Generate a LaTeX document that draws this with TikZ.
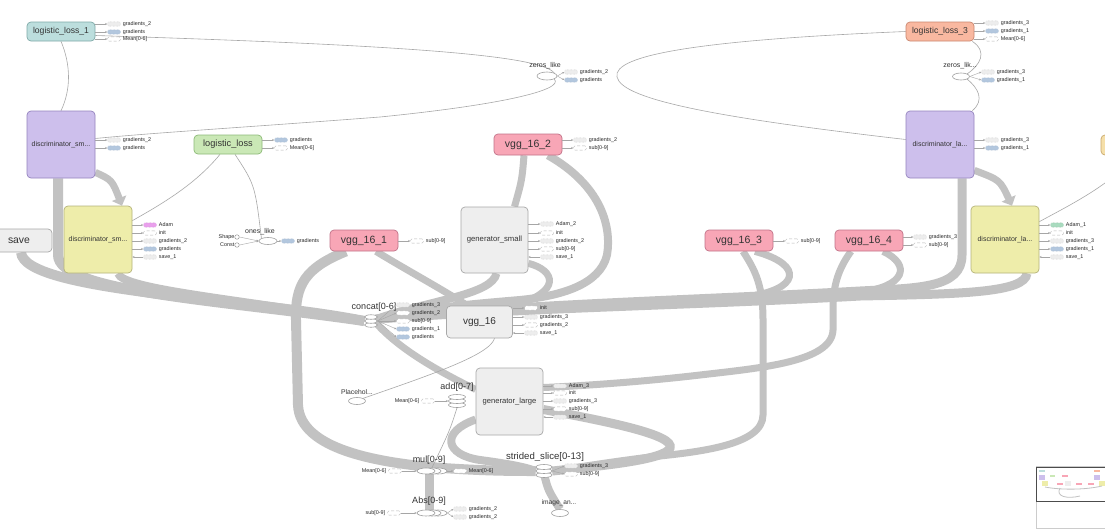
\documentclass[tikz,border=0pt]{standalone}
\usepackage{fontspec}
\setmainfont{Liberation Sans}
\usetikzlibrary{shapes.geometric,arrows.meta}
\pgfdeclarelayer{bg}
\pgfsetlayers{bg,main}
\definecolor{bandc}{HTML}{C2C2C2}
\definecolor{thinc}{HTML}{A8A8A8}
\definecolor{txtc}{HTML}{333333}
\definecolor{tealf}{HTML}{BCDEDD}\definecolor{teald}{HTML}{7FAAA8}
\definecolor{purpf}{HTML}{CDBFEC}\definecolor{purpd}{HTML}{9584BE}
\definecolor{greenf}{HTML}{CAE8B6}\definecolor{greend}{HTML}{8DBA78}
\definecolor{pinkf}{HTML}{F8A6B6}\definecolor{pinkd}{HTML}{C27288}
\definecolor{salmf}{HTML}{F9B8A0}\definecolor{salmd}{HTML}{C9866F}
\definecolor{yellf}{HTML}{EEEDAA}\definecolor{yelld}{HTML}{B5B37A}
\definecolor{grayf}{HTML}{EEEEEE}\definecolor{grayd}{HTML}{A8A8A8}
\definecolor{wheatf}{HTML}{F5DFA9}\definecolor{wheatd}{HTML}{C8A86E}
\definecolor{auxd}{HTML}{B8B8B8}
\definecolor{bluef}{HTML}{B3C7DE}\definecolor{blued}{HTML}{8CA3BF}
\definecolor{magf}{HTML}{E9A0EC}\definecolor{magd}{HTML}{C070C8}
\definecolor{mintf}{HTML}{A9DBBF}\definecolor{mintd}{HTML}{6FAA88}
\definecolor{lightf}{HTML}{EDEDED}
\newcommand{\myfs}[1]{\fontsize{#1}{#1}\selectfont}
% aux items: name, source node, x, y, style, label
\newcommand{\ax}[6]{\node[auxb,#5] (#1) at (#3,#4) {};\node[auxt] (#1t) at (#1.east) {#6};\draw[auxa] (#2.east |- #1.west) -- (#1.west);}
\newcommand{\axf}[6]{\node[auxb,#5] (#1) at (#3,#4) {};\node[auxt] (#1t) at (#1.east) {#6};\draw[auxa] (#2.east) -- (#1.west);}
\newcommand{\axi}[6]{\node[auxb,#5] (#1) at (#3,#4) {};\node[auxt] (#1t) at (#1.east) {#6};\draw[auxa] (#1.west) -- (#2.east |- #1.west);}
\newcommand{\axl}[6]{\node[auxb,#5] (#1) at (#3,#4) {};\node[auxt,anchor=east,xshift=-4pt] (#1t) at (#1.west) {#6};\draw[auxa] (#1.east) -- (#2.west);}
\begin{document}
\begin{tikzpicture}[x=1pt,y=-1pt,
 mbox/.style={draw,rounded corners=4pt,line width=0.7pt,inner sep=0pt,text=txtc,align=center},
 cteal/.style={fill=tealf,draw=teald},
 cpurp/.style={fill=purpf,draw=purpd},
 cgreen/.style={fill=greenf,draw=greend},
 cpink/.style={fill=pinkf,draw=pinkd,minimum width=68pt,minimum height=21pt,font=\myfs{10.5}},
 csalm/.style={fill=salmf,draw=salmd},
 cyell/.style={fill=yellf,draw=yelld},
 cgray/.style={fill=grayf,draw=grayd},
 cwheat/.style={fill=wheatf,draw=wheatd},
 ser/.style={ellipse,draw=gray!75,fill=white,line width=0.6pt,inner sep=0pt},
 slab/.style={font=\myfs{9},text=txtc,inner sep=0pt},
 olab/.style={font=\myfs{7},text=txtc,inner sep=0pt},
 band/.style={draw=bandc,line width=#1},
 band/.default=8pt,
 barrow/.style={-{Triangle[length=8pt,width=15pt]}},
 thin/.style={draw=thinc,line width=0.6pt},
 auxb/.style={rounded corners=1.5pt,minimum width=13pt,minimum height=4.2pt,inner sep=0pt,line width=0.4pt},
 auxt/.style={anchor=west,xshift=2pt,font=\myfs{5.4},inner sep=0pt,text=black!85},
 auxa/.style={draw=gray!70,line width=0.4pt,-{Stealth[length=2.2pt,width=2pt]}},
 alight/.style={fill=lightf,draw=auxd,densely dotted},
 ablue/.style={fill=bluef,draw=blued,densely dotted},
 awhite/.style={fill=white,draw=auxd,densely dashed},
 ainit/.style={fill=white,draw=auxd,densely dashed,rounded corners=2pt},
 amag/.style={fill=magf,draw=magd,densely dotted},
 amint/.style={fill=mintf,draw=mintd,densely dotted},
 tinyc/.style={circle,draw=gray!80,fill=white,line width=0.5pt,minimum size=4.5pt,inner sep=0pt}
]
\useasboundingbox (0,0) rectangle (1105,528);
\begin{pgfonlayer}{bg}
\fill[white] (0,0) rectangle (1105,528);
\end{pgfonlayer}

% ---------- main nodes ----------
\node[mbox,cteal,minimum width=68pt,minimum height=19pt,font=\myfs{8.6}] (lgl1) at (61,31.5) {logistic\_loss\_1};
\node[mbox,cpurp,minimum width=68pt,minimum height=67pt,font=\myfs{7}] (dsp) at (61,144.5) {discriminator\_sm...};
\node[mbox,cgreen,minimum width=68pt,minimum height=19pt,font=\myfs{9.2}] (lgl) at (228,144.5) {logistic\_loss};
\node[mbox,cpink] (vgg2) at (528,144.5) {vgg\_16\_2};
\node[mbox,csalm,minimum width=68pt,minimum height=19pt,font=\myfs{8.6}] (lgl3) at (940,31.5) {logistic\_loss\_3};
\node[mbox,cpurp,minimum width=68pt,minimum height=67pt,font=\myfs{7}] (dlp) at (940,144.5) {discriminator\_la...};
\node[mbox,cwheat,minimum width=60pt,minimum height=20pt] (wheat) at (1131,145) {};
\node[mbox,cgray,minimum width=88pt,minimum height=23pt,font=\myfs{10.4}] (save) at (8,240.5) {\hspace*{22pt}save};
\node[mbox,cyell,minimum width=68pt,minimum height=67pt,font=\myfs{7}] (dsy) at (98,239.5) {discriminator\_sm...};
\node[mbox,cpink] (vgg1) at (364,240.5) {vgg\_16\_1};
\node[mbox,cgray,minimum width=67pt,minimum height=66pt,font=\myfs{7.7}] (gsm) at (494.5,240) {generator\_small};
\node[mbox,cpink] (vgg3) at (739,240.5) {vgg\_16\_3};
\node[mbox,cpink] (vgg4) at (869,240.5) {vgg\_16\_4};
\node[mbox,cyell,minimum width=68pt,minimum height=67pt,font=\myfs{7}] (dly) at (1005,239.5) {discriminator\_la...};
\node[mbox,cgray,minimum width=66pt,minimum height=32pt,font=\myfs{10}] (vgg16) at (479.5,322) {vgg\_16};
\node[mbox,cgray,minimum width=67pt,minimum height=67pt,font=\myfs{7.6}] (glg) at (509.5,401.5) {generator\_large};

% ---------- op nodes ----------
\node[ser,minimum width=20pt,minimum height=8pt] (zl) at (547,76) {};
\node[olab] (zlt) at (545,66) {zeros\_like};
\node[ser,minimum width=17pt,minimum height=7pt] (zl3) at (961,76.5) {};
\node[olab] (zl3t) at (960,66) {zeros\_lik...};
\node[ser,minimum width=18pt,minimum height=7pt] (ones) at (268,241) {};
\node[olab] (onest) at (260,232) {ones\_like};
\node[tinyc] (shp) at (237,237) {};
\node[tinyc] (cst) at (237,245) {};
\node[auxt,anchor=east,xshift=-2pt] (shpt) at (shp.west) {Shape};
\node[auxt,anchor=east,xshift=-2pt] (cstt) at (cst.west) {Const};
\draw[auxa] (shp.east) -- (ones.west);
\draw[auxa] (cst.east) -- (ones.west);
\node[ser,minimum width=17pt,minimum height=7pt] (ph) at (357,401) {};
\node[olab,font=\myfs{6.8}] (pht) at (357,392) {Placehol...};
\node[ser,minimum width=17pt,minimum height=7pt] (img) at (560,513) {};
\node[olab,font=\myfs{6.6}] (imgt) at (559,503) {image\_an...};
% series stacks
\node[ser,minimum width=13pt,minimum height=4.5pt] (concat3) at (371,325) {};
\node[ser,minimum width=13pt,minimum height=4.5pt] (concat) at (371,321) {};
\node[ser,minimum width=13pt,minimum height=4.5pt] (concat1) at (371,317) {};
\node[slab] (concatt) at (374,307) {concat[0-6]};
\node[ser,minimum width=17pt,minimum height=5pt] (add3) at (457,405) {};
\node[ser,minimum width=17pt,minimum height=5pt] (add) at (457,401) {};
\node[ser,minimum width=17pt,minimum height=5pt] (add1) at (457,397) {};
\node[slab] (addt) at (457,387) {add[0-7]};
\node[ser,minimum width=16pt,minimum height=5pt] (ss3) at (544,475) {};
\node[ser,minimum width=16pt,minimum height=5pt] (ss) at (544,471) {};
\node[ser,minimum width=16pt,minimum height=5pt] (ss1) at (544,467) {};
\node[slab,font=\myfs{9.6}] (sst) at (545,457) {strided\_slice[0-13]};
\node[ser,minimum width=18pt,minimum height=6pt] (mul3) at (438,471) {};
\node[ser,minimum width=18pt,minimum height=6pt] (mul2) at (432,471) {};
\node[ser,minimum width=18pt,minimum height=6pt] (mul) at (426,471) {};
\node[slab] (mult) at (429,460) {mul[0-9]};
\node[ser,minimum width=18pt,minimum height=6pt] (abs3) at (438,513) {};
\node[ser,minimum width=18pt,minimum height=6pt] (abs2) at (432,513) {};
\node[ser,minimum width=18pt,minimum height=6pt] (abs) at (426,513) {};
\node[slab] (abst) at (429,501) {Abs[0-9]};

% ---------- auxiliary items ----------
\ax{a1}{lgl1}{114}{24}{alight}{gradients\_2}
\ax{a2}{lgl1}{114}{32}{ablue}{gradients}
\ax{a3}{lgl1}{114}{39}{awhite}{Mean[0-6]}
\ax{a4}{dsp}{114}{140}{alight}{gradients\_2}
\ax{a5}{dsp}{114}{148}{ablue}{gradients}
\ax{a6}{lgl}{281}{140}{ablue}{gradients}
\ax{a7}{lgl}{281}{148}{awhite}{Mean[0-6]}
\axf{a8}{zl}{571}{72}{alight}{gradients\_2}
\axf{a9}{zl}{571}{80}{ablue}{gradients}
\ax{a10}{vgg2}{580}{140}{alight}{gradients\_2}
\ax{a11}{vgg2}{580}{148}{awhite}{sub[0-9]}
\ax{a12}{lgl3}{992}{23}{alight}{gradients\_3}
\ax{a13}{lgl3}{992}{31}{ablue}{gradients\_1}
\ax{a14}{lgl3}{992}{39}{awhite}{Mean[0-6]}
\axf{a15}{zl3}{988}{72}{alight}{gradients\_3}
\axf{a16}{zl3}{988}{80}{ablue}{gradients\_1}
\ax{a17}{dlp}{992}{140}{alight}{gradients\_3}
\ax{a18}{dlp}{992}{148}{ablue}{gradients\_1}
\ax{a19}{dsy}{150}{225}{amag}{Adam}
\ax{a20}{dsy}{150}{233}{ainit}{init}
\ax{a21}{dsy}{150}{241}{alight}{gradients\_2}
\ax{a22}{dsy}{150}{249}{ablue}{gradients}
\axi{a23}{dsy}{150}{257}{alight}{save\_1}
\axf{a24}{ones}{288}{241}{ablue}{gradients}
\ax{a25}{vgg1}{417}{241}{awhite}{sub[0-9]}
\ax{a26}{gsm}{547}{224}{alight}{Adam\_2}
\ax{a27}{gsm}{547}{233}{ainit}{init}
\ax{a28}{gsm}{547}{241}{alight}{gradients\_2}
\ax{a29}{gsm}{547}{249}{awhite}{sub[0-9]}
\axi{a30}{gsm}{547}{257}{alight}{save\_1}
\ax{a31}{vgg3}{792}{241}{awhite}{sub[0-9]}
\ax{a32}{vgg4}{920}{237}{alight}{gradients\_3}
\ax{a33}{vgg4}{920}{245}{awhite}{sub[0-9]}
\ax{a34}{dly}{1057}{225}{amint}{Adam\_1}
\ax{a35}{dly}{1057}{233}{ainit}{init}
\ax{a36}{dly}{1057}{241}{alight}{gradients\_3}
\ax{a37}{dly}{1057}{249}{ablue}{gradients\_1}
\axi{a38}{dly}{1057}{257}{alight}{save\_1}
\axf{a39}{concat}{403}{305}{alight}{gradients\_3}
\axf{a40}{concat}{403}{313}{awhite}{gradients\_2}
\axf{a41}{concat}{403}{321}{awhite}{sub[0-9]}
\axf{a42}{concat}{403}{329}{ablue}{gradients\_1}
\axf{a43}{concat}{403}{337}{ablue}{gradients}
\ax{a44}{vgg16}{531}{308}{ainit}{init}
\ax{a45}{vgg16}{531}{317}{alight}{gradients\_3}
\ax{a46}{vgg16}{531}{325}{awhite}{gradients\_2}
\axi{a47}{vgg16}{531}{333}{alight}{save\_1}
\axl{a48}{add}{428}{401}{awhite}{Mean[0-6]}
\ax{a49}{glg}{560}{386}{alight}{Adam\_3}
\ax{a50}{glg}{560}{393}{ainit}{init}
\ax{a51}{glg}{560}{401}{alight}{gradients\_3}
\ax{a52}{glg}{560}{409}{awhite}{sub[0-9]}
\axi{a53}{glg}{560}{417}{alight}{save\_1}
\axl{a54}{mul}{395}{471}{awhite}{Mean[0-6]}
\axf{a55}{mul3}{460}{471}{awhite}{Mean[0-6]}
\axl{a56}{abs}{394}{513}{awhite}{sub[0-9]}
\axf{a57}{abs3}{460}{509}{alight}{gradients\_2}
\axf{a58}{abs3}{460}{517}{alight}{gradients\_2}
\axf{a59}{ss}{571}{466}{alight}{gradients\_3}
\axf{a60}{ss}{571}{474}{awhite}{sub[0-9]}

% ---------- connectors (behind nodes) ----------
\begin{pgfonlayer}{bg}
% left bundle into concat
\draw[band=10pt] ([xshift=13pt]save.south) .. controls (24,292) and (250,298) .. (concat.west);
\draw[band=10pt] ([xshift=-3pt]dsp.south) -- (58,255) .. controls (58,292) and (220,300) .. (concat.west);
\draw[band=8pt] ([xshift=-15pt]dsy.south) .. controls (88,292) and (230,302) .. (concat.west);
\draw[band=8pt] ([xshift=20pt]dsy.south) .. controls (122,290) and (250,300) .. (concat.west);
\draw[band=7pt,barrow] ([yshift=6pt]dsp.south east) .. controls (112,180) .. ([xshift=24pt]dsy.north);
% right bundle into concat
\draw[band=9pt] ([xshift=22pt]dlp.south) -- (962,255) .. controls (962,288) and (920,288) .. (860,291) .. controls (700,300) and (520,304) .. (concat.north east);
\draw[band=9pt] ([xshift=22pt]dly.south) .. controls (1025,293) and (960,294) .. (860,296) .. controls (700,305) and (520,308) .. (concat.north east);
\draw[band=7pt,barrow] ([yshift=8pt]dlp.south east) .. controls (1000,180) .. ([xshift=7pt]dly.north);
\draw[band=7pt] ([xshift=16pt]vgg3.south) .. controls (805,265) and (800,290) .. (745,297) .. controls (650,305) and (500,308) .. (concat.north east);
\draw[band=7pt] ([xshift=14pt]vgg4.south) .. controls (912,265) and (905,287) .. (860,292);
% vgg_16_2 and generator_small
\draw[band=7pt] ([xshift=-4pt]vgg2.south) .. controls (522,180) .. ([xshift=20pt]gsm.north);
\draw[band=8pt] ([xshift=20pt]vgg2.south) .. controls (600,185) and (612,225) .. (607,255) .. controls (600,285) and (560,296) .. (520,300) .. controls (460,305) and (410,310) .. (concat.north east);
\draw[band=8pt] ([xshift=2pt]gsm.south) .. controls (492,295) and (430,300) .. (concat.north east);
\draw[band=7pt] ([yshift=10pt]gsm.south east) .. controls (555,270) and (563,292) .. (vgg16.north east);
% vgg_16_1
\draw[band=7pt] ([xshift=12pt]vgg1.south) .. controls (410,272) and (440,288) .. ([xshift=-12pt]vgg16.north);
\draw[band=10pt] ([xshift=-18pt]vgg1.south) .. controls (305,268) and (295,285) .. (296,320) -- (298,405) .. controls (300,450) and (380,462) .. (430,467) .. controls (480,471) and (515,471) .. (ss.west);
% concat -> generator_large
\draw[band=7pt] (concat.south east) .. controls (400,350) and (440,372) .. ([yshift=12pt]glg.west);
% vgg_16_3 -> strided_slice
\draw[band=7pt] ([xshift=4pt]vgg3.south) .. controls (755,270) and (763,285) .. (763,320) -- (763,415) .. controls (763,445) and (700,452) .. (650,457) .. controls (610,462) and (580,467) .. (ss.east);
% vgg_16_4 -> generator_large
\draw[band=7pt] ([xshift=-18pt]vgg4.south) .. controls (836,272) and (833,290) .. (833,310) -- (833,330) .. controls (832,362) and (760,368) .. (700,375) .. controls (640,382) and (580,386) .. ([yshift=14pt]glg.east);
% generator_large -> strided_slice
\draw[band=9pt] ([yshift=-8pt]glg.east) .. controls (610,422) and (675,435) .. (670,448) .. controls (665,460) and (600,466) .. (ss.east);
\draw[band=8pt] ([yshift=-18pt]glg.west) .. controls (440,432) and (445,455) .. (480,460) .. controls (510,464) and (525,467) .. (ss.west);
% bottom
\draw[band=9pt] ([xshift=3pt]mul.south) -- ([xshift=3pt]abs.north);
\draw[band=8pt] (ss.south) .. controls (548,490) .. (img.north);
% thin edges
\draw[thin] (lgl1.south) .. controls (71,65) and (71,90) .. (dsp.north);
\draw[thin] ([yshift=-4pt]lgl1.east) .. controls (400,45) and (540,55) .. (zl.north east);
\draw[thin] (zl.south east) .. controls (565,90) and (500,105) .. (380,117) .. controls (250,127) and (150,133) .. ([yshift=6pt]dsp.east);
\draw[thin] (lgl3.west) .. controls (700,40) and (612,55) .. (617,77) .. controls (622,100) and (720,118) .. ([yshift=5pt]dlp.west);
\draw[thin] ([xshift=-2pt]lgl3.south east) .. controls (988,52) and (980,65) .. (zl3.north east);
\draw[thin] (zl3.south east) .. controls (978,88) and (985,100) .. ([xshift=-2pt]dlp.north east);
\draw[thin] ([xshift=-8pt]lgl.south) .. controls (195,185) and (160,205) .. ([yshift=-15pt]dsy.north east);
\draw[thin] ([xshift=7pt]lgl.south) .. controls (255,185) .. (ones.north west);
\draw[thin] (wheat.south) .. controls (1120,180) and (1070,205) .. ([yshift=-16pt]dly.north east);
\draw[thin] (ph.north east) .. controls (430,375) and (490,355) .. ([xshift=15pt]vgg16.south);
\draw[thin] (add3.south) .. controls (450,430) .. (mul2.north);
\end{pgfonlayer}

% ---------- minimap ----------
\node[draw=gray!40,fill=white,minimum width=72pt,minimum height=62pt,inner sep=0pt] (mm) at (1072,497) {};
\node[draw=gray!60!black,line width=0.8pt,minimum width=72pt,minimum height=34pt,inner sep=0pt] (mmv) at (1072,484) {};
\fill[tealf] (1039,470) rectangle (1045,472);
\fill[purpf] (1039,475) rectangle (1045,480);
\fill[yellf] (1042,481) rectangle (1048,486);
\fill[greenf] (1050,475) rectangle (1055,477);
\fill[pinkf] (1062,475) rectangle (1068,477);
\fill[pinkf] (1057,483) rectangle (1063,485);
\fill[pinkf] (1076,483) rectangle (1082,485);
\fill[pinkf] (1088,483) rectangle (1094,485);
\fill[salmf] (1094,470) rectangle (1100,472);
\fill[purpf] (1094,475) rectangle (1100,480);
\fill[yellf] (1099,481) rectangle (1105,486);
\fill[grayf] (1065,481) rectangle (1071,486);
\draw[bandc,line width=0.8pt] (1045,487) .. controls (1060,490) and (1085,490) .. (1102,486);
\draw[bandc,line width=0.8pt] (1060,488) .. controls (1055,497) and (1068,499) .. (1080,496);
\end{tikzpicture}
\end{document}
